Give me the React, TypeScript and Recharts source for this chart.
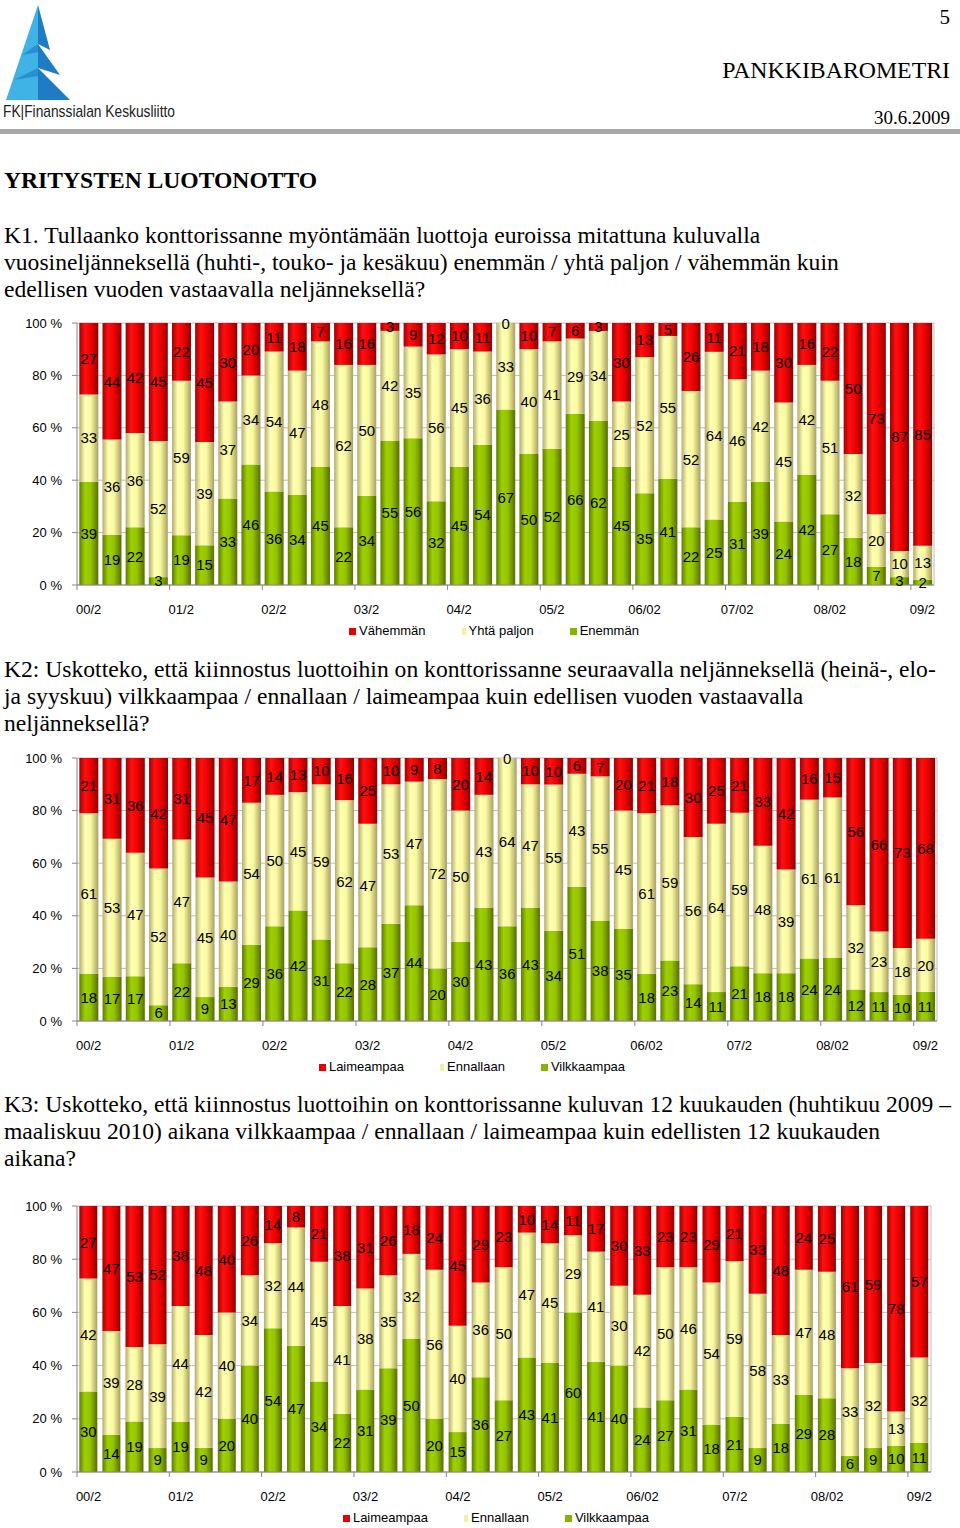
import React from 'react'
import { BarChart, Bar, XAxis, YAxis, CartesianGrid, LabelList } from 'recharts'

// one bar per quarter, 2000/Q2 .. 2009/Q2
const quarters = [
  '00/2', '00/3', '00/4',
  '01/1', '01/2', '01/3', '01/4',
  '02/1', '02/2', '02/3', '02/4',
  '03/1', '03/2', '03/3', '03/4',
  '04/1', '04/2', '04/3', '04/4',
  '05/1', '05/2', '05/3', '05/4',
  '06/1', '06/2', '06/3', '06/4',
  '07/1', '07/2', '07/3', '07/4',
  '08/1', '08/2', '08/3', '08/4',
  '09/1', '09/2',
]

const k1Ticks = ['00/2', '01/2', '02/2', '03/2', '04/2', '05/2', '06/02', '07/02', '08/02', '09/2']
const k2Ticks = ['00/2', '01/2', '02/2', '03/2', '04/2', '05/2', '06/02', '07/2', '08/02', '09/2']
const k3Ticks = ['00/2', '01/2', '02/2', '03/2', '04/2', '05/2', '06/02', '07/2', '08/02', '09/2']

// K1: Vähemmän / Yhtä paljon / Enemmän
const k1Less = [27, 44, 42, 45, 22, 45, 30, 20, 11, 18, 7, 16, 16, 3, 9, 12, 10, 11, 0, 10, 7, 6, 3, 30, 13, 5, 26, 11, 21, 18, 30, 16, 22, 50, 73, 87, 85]
const k1Same = [33, 36, 36, 52, 59, 39, 37, 34, 54, 47, 48, 62, 50, 42, 35, 56, 45, 36, 33, 40, 41, 29, 34, 25, 52, 55, 52, 64, 46, 42, 45, 42, 51, 32, 20, 10, 13]
const k1More = [39, 19, 22, 3, 19, 15, 33, 46, 36, 34, 45, 22, 34, 55, 56, 32, 45, 54, 67, 50, 52, 66, 62, 45, 35, 41, 22, 25, 31, 39, 24, 42, 27, 18, 7, 3, 2]

// K2: Laimeampaa / Ennallaan / Vilkkaampaa
const k2Less = [21, 31, 36, 42, 31, 45, 47, 17, 14, 13, 10, 16, 25, 10, 9, 8, 20, 14, 0, 10, 10, 6, 7, 20, 21, 18, 30, 25, 21, 33, 42, 16, 15, 56, 66, 73, 68]
const k2Same = [61, 53, 47, 52, 47, 45, 40, 54, 50, 45, 59, 62, 47, 53, 47, 72, 50, 43, 64, 47, 55, 43, 55, 45, 61, 59, 56, 64, 59, 48, 39, 61, 61, 32, 23, 18, 20]
const k2More = [18, 17, 17, 6, 22, 9, 13, 29, 36, 42, 31, 22, 28, 37, 44, 20, 30, 43, 36, 43, 34, 51, 38, 35, 18, 23, 14, 11, 21, 18, 18, 24, 24, 12, 11, 10, 11]

// K3: Laimeampaa / Ennallaan / Vilkkaampaa
const k3Less = [27, 47, 53, 52, 38, 48, 40, 26, 14, 8, 21, 38, 31, 26, 18, 24, 45, 29, 23, 10, 14, 11, 17, 30, 33, 23, 23, 29, 21, 33, 48, 24, 25, 61, 59, 78, 57]
const k3Same = [42, 39, 28, 39, 44, 42, 40, 34, 32, 44, 45, 41, 38, 35, 32, 56, 40, 36, 50, 47, 45, 29, 41, 30, 42, 50, 46, 54, 59, 58, 33, 47, 48, 33, 32, 13, 32]
const k3More = [30, 14, 19, 9, 19, 9, 20, 40, 54, 47, 34, 22, 31, 39, 50, 20, 15, 36, 27, 43, 41, 60, 41, 40, 24, 27, 31, 18, 21, 9, 18, 29, 28, 6, 9, 10, 11]

const k1Names = ['Vähemmän', 'Yhtä paljon', 'Enemmän']
const k2Names = ['Laimeampaa', 'Ennallaan', 'Vilkkaampaa']

const sans = '"Liberation Sans", Arial, sans-serif'
const serif = '"Liberation Serif", "Times New Roman", serif'

const PLOT_LEFT = 77
const MARGIN_TOP = 12

function Gradients({ id }: { id: string }) {
  return (
    <defs>
      <linearGradient id={id + '-r'} x1="0" y1="0" x2="1" y2="0">
        <stop offset="0%" stopColor="#a00000" />
        <stop offset="30%" stopColor="#ff1010" />
        <stop offset="60%" stopColor="#f00000" />
        <stop offset="100%" stopColor="#900000" />
      </linearGradient>
      <linearGradient id={id + '-y'} x1="0" y1="0" x2="1" y2="0">
        <stop offset="0%" stopColor="#b4ad6a" />
        <stop offset="30%" stopColor="#ffffb4" />
        <stop offset="60%" stopColor="#fafaa0" />
        <stop offset="100%" stopColor="#a8a060" />
      </linearGradient>
      <linearGradient id={id + '-g'} x1="0" y1="0" x2="1" y2="0">
        <stop offset="0%" stopColor="#5f7c00" />
        <stop offset="30%" stopColor="#9fd000" />
        <stop offset="60%" stopColor="#94c400" />
        <stop offset="100%" stopColor="#566e00" />
      </linearGradient>
    </defs>
  )
}

type ChartProps = {
  id: string
  plotTop: number
  plotHeight: number
  plotRight: number
  less: number[]
  same: number[]
  more: number[]
  ticks: string[]
  names: string[]
  legendY: number
  legendCenter: number
}

function StackChart(p: ChartProps) {
  const data = quarters.map((q, i) => ({ q, more: p.more[i], same: p.same[i], less: p.less[i] }))
  const band = (p.plotRight - PLOT_LEFT) / quarters.length
  const axisY = MARGIN_TOP + p.plotHeight

  const renderTick = (props: any) => {
    const { x, payload } = props
    const qi = quarters.indexOf(payload.value)
    return (
      <g>
        <line x1={x - band / 2} x2={x - band / 2} y1={axisY} y2={axisY + 5} stroke="#868686" />
        <text x={x} y={axisY + 24} textAnchor="middle" dominantBaseline="central" fontSize={13} fontFamily={sans} fill="#000">
          {p.ticks[qi / 4]}
        </text>
      </g>
    )
  }

  // a zero top segment has no rect of its own, so its "0" is drawn at the top of the middle segment
  const renderZero = (props: any) => {
    const { x, y, width, value } = props
    if (value !== 0) return null
    return (
      <text x={x + width / 2} y={y} textAnchor="middle" dominantBaseline="central" fontSize={15} fontFamily={sans} fill="#000">
        0
      </text>
    )
  }

  const label = { position: 'center' as const, fill: '#000', stroke: 'none', fontSize: 15, fontFamily: sans }
  const colors = [`url(#${p.id}-r)`, `url(#${p.id}-y)`, `url(#${p.id}-g)`]
  const swatch = ['#e80000', '#f4f0a0', '#88b400']

  return (
    <>
      <div style={{ position: 'absolute', left: 0, top: p.plotTop - MARGIN_TOP }}>
        <BarChart
          width={960}
          height={MARGIN_TOP + p.plotHeight + 34}
          data={data}
          stackOffset="expand"
          barCategoryGap="10%"
          margin={{ top: MARGIN_TOP, right: 960 - p.plotRight, left: 0, bottom: 0 }}
        >
          <Gradients id={p.id} />
          <CartesianGrid stroke="#bdbdbd" vertical={true} verticalPoints={[p.plotRight]} />
          <XAxis
            dataKey="q"
            interval={3}
            height={34}
            tickLine={false}
            axisLine={{ stroke: '#868686' }}
            tick={renderTick}
          />
          <YAxis
            width={PLOT_LEFT}
            domain={[0, 1]}
            ticks={[0, 0.2, 0.4, 0.6, 0.8, 1]}
            tickFormatter={(v: number) => `${Math.round(v * 100)} %`}
            tickSize={5}
            tickMargin={10}
            tickLine={{ stroke: '#868686' }}
            axisLine={{ stroke: '#868686' }}
            tick={{ fontSize: 13, fontFamily: sans, fill: '#000' }}
          />
          <Bar dataKey="more" stackId="s" fill={colors[2]} isAnimationActive={false}>
            <LabelList dataKey="more" {...label} />
          </Bar>
          <Bar dataKey="same" stackId="s" fill={colors[1]} isAnimationActive={false}>
            <LabelList dataKey="same" {...label} />
            <LabelList dataKey="less" content={renderZero} />
          </Bar>
          <Bar dataKey="less" stackId="s" fill={colors[0]} isAnimationActive={false}>
            <LabelList dataKey="less" {...label} />
          </Bar>
        </BarChart>
      </div>
      <div
        style={{
          position: 'absolute',
          top: p.legendY - 9,
          left: p.legendCenter - 400,
          width: 800,
          display: 'flex',
          justifyContent: 'center',
          gap: 36,
          fontFamily: sans,
          fontSize: 13,
          lineHeight: '18px',
        }}
      >
        {p.names.map((n, i) => (
          <span key={n} style={{ display: 'flex', alignItems: 'center' }}>
            <span style={{ display: 'inline-block', width: i === 1 ? 4 : 7, height: 7, background: swatch[i], marginRight: 3 }} />
            {n}
          </span>
        ))}
      </div>
    </>
  )
}

function Line({ top, children, bold }: { top: number; children: React.ReactNode; bold?: boolean }) {
  return (
    <div
      style={{
        position: 'absolute',
        left: 4,
        top: top - 14,
        fontSize: 23.6,
        lineHeight: '27px',
        whiteSpace: 'nowrap',
        fontWeight: bold ? 'bold' : 'normal',
      }}
    >
      {children}
    </div>
  )
}

function Logo() {
  return (
    <>
      <svg width={80} height={104} style={{ position: 'absolute', left: 0, top: 0 }}>
        <polygon points="38,5 6,100 38,100" fill="#3fb3e6" />
        <polygon points="38,5 50,50 38,44" fill="#1f7cc4" />
        <polygon points="38,44 60,75 38,68" fill="#1f7cc4" />
        <polygon points="38,68 70,100 38,100" fill="#1f7cc4" />
        <polygon points="38,44 22,55 38,52" fill="#2a8fd0" />
        <polygon points="38,68 14,80 38,76" fill="#2a8fd0" />
      </svg>
      <div
        style={{
          position: 'absolute',
          left: 3,
          top: 102,
          fontFamily: sans,
          fontSize: 17,
          lineHeight: '20px',
          color: '#222',
          whiteSpace: 'nowrap',
          transform: 'scaleX(0.81)',
          transformOrigin: 'left center',
        }}
      >
        FK|Finanssialan Keskusliitto
      </div>
    </>
  )
}

export default function App() {
  return (
    <div
      style={{
        position: 'absolute',
        left: 0,
        top: 0,
        width: 960,
        height: 1528,
        background: '#fff',
        overflow: 'hidden',
        fontFamily: serif,
        color: '#000',
      }}
    >
      <Logo />
      <div style={{ position: 'absolute', right: 10, top: 4, fontSize: 21, lineHeight: '26px' }}>5</div>
      <div style={{ position: 'absolute', right: 10, top: 56, fontSize: 23.8, lineHeight: '28px' }}>PANKKIBAROMETRI</div>
      <div style={{ position: 'absolute', right: 10, top: 106, fontSize: 19, lineHeight: '24px' }}>30.6.2009</div>
      <div style={{ position: 'absolute', left: 0, top: 129, width: 960, height: 5, background: '#a6a6a6' }} />

      <Line top={181} bold>YRITYSTEN LUOTONOTTO</Line>
      <Line top={236}>K1. Tullaanko konttorissanne myöntämään luottoja euroissa mitattuna kuluvalla</Line>
      <Line top={263}>vuosineljänneksellä (huhti-, touko- ja kesäkuu) enemmän / yhtä paljon / vähemmän kuin</Line>
      <Line top={290}>edellisen vuoden vastaavalla neljänneksellä?</Line>

      <StackChart
        id="k1"
        plotTop={323}
        plotHeight={262}
        plotRight={934}
        less={k1Less}
        same={k1Same}
        more={k1More}
        ticks={k1Ticks}
        names={k1Names}
        legendY={631}
        legendCenter={494}
      />

      <Line top={670}>K2: Uskotteko, että kiinnostus luottoihin on konttorissanne seuraavalla neljänneksellä (heinä-, elo-</Line>
      <Line top={697}>ja syyskuu) vilkkaampaa / ennallaan / laimeampaa kuin edellisen vuoden vastaavalla</Line>
      <Line top={724}>neljänneksellä?</Line>

      <StackChart
        id="k2"
        plotTop={758}
        plotHeight={263}
        plotRight={937}
        less={k2Less}
        same={k2Same}
        more={k2More}
        ticks={k2Ticks}
        names={k2Names}
        legendY={1067}
        legendCenter={472}
      />

      <Line top={1105}>K3: Uskotteko, että kiinnostus luottoihin on konttorissanne kuluvan 12 kuukauden (huhtikuu 2009 –</Line>
      <Line top={1132}>maaliskuu 2010) aikana vilkkaampaa / ennallaan / laimeampaa kuin edellisten 12 kuukauden</Line>
      <Line top={1159}>aikana?</Line>

      <StackChart
        id="k3"
        plotTop={1206}
        plotHeight={266}
        plotRight={931}
        less={k3Less}
        same={k3Same}
        more={k3More}
        ticks={k3Ticks}
        names={k2Names}
        legendY={1518}
        legendCenter={496}
      />
    </div>
  )
}
